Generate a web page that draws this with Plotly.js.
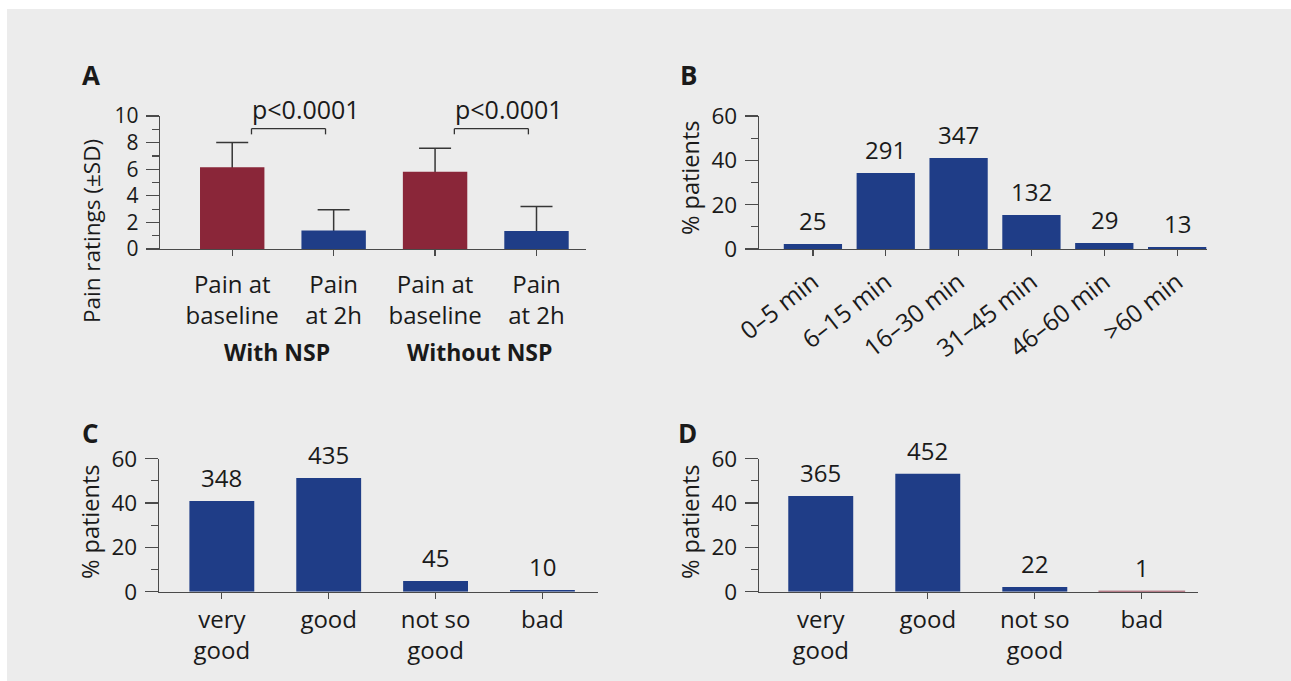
<!DOCTYPE html>
<html><head><meta charset="utf-8">
<script src="https://cdn.plot.ly/plotly-3.0.1.min.js"></script>
<style>html,body{margin:0;padding:0;background:#fff;overflow:hidden;} #chart{width:1291px;height:681px;}</style>
</head><body><div id="chart"></div>
<script>
// ---------- Panel A: pain ratings ----------
const painLabels = ['Pain at<br>baseline', 'Pain<br>at 2h', 'Pain at<br>baseline', 'Pain<br>at 2h'];
const painMeans = [6.15, 1.4, 5.8, 1.35];
const painSD = [1.85, 1.55, 1.77, 1.85];
const painIsBaseline = [true, false, true, false];
const painGroups = ['With NSP', 'Without NSP'];
const pValues = ['p&lt;0.0001', 'p&lt;0.0001'];

// ---------- Panel B: duration ----------
const durCats = ['0–5 min', '6–15 min', '16–30 min', '31–45 min', '46–60 min', '>60 min'];
const durPct = [2.3, 34.3, 41.1, 15.3, 2.7, 0.9];
const durN = [25, 291, 347, 132, 29, 13];

// ---------- Panels C and D: ratings ----------
const ratingCats = ['very<br>good', 'good', 'not so<br>good', 'bad'];
const ratingCPct = [40.9, 51.3, 4.8, 0.8];
const ratingCN = [348, 435, 45, 10];
const ratingDPct = [43.2, 53.2, 2.1, 0.4];
const ratingDN = [365, 452, 22, 1];

const BLUE = '#1f3d87', RED = '#8a2639', AX = '#4a4a4a', TXT = '#1a1a1a';
const FONT = '"Open Sans", sans-serif';
const W = 1291, H = 681;
const px = v => v / W, py = v => 1 - v / H;

function yax(domain, range, dtick, minor, anchor, fsize) {
  return {domain, range, anchor, dtick, tick0: 0, showline: true, linecolor: AX, linewidth: 1.3,
    ticks: 'outside', ticklen: 13, tickwidth: 1.2, tickcolor: AX,
    minor: {dtick: minor, tick0: 0, ticks: 'outside', ticklen: 7, tickcolor: AX, tickwidth: 1.2},
    showgrid: false, zeroline: false, ticklabelstandoff: 3,
    tickfont: {size: fsize, color: TXT, family: FONT}, fixedrange: true};
}
function xax(domain, range, anchor, extra) {
  return Object.assign({domain, range, anchor, showline: true, linecolor: AX, linewidth: 1.3,
    ticks: 'outside', ticklen: 6, tickwidth: 1.2, tickcolor: AX, showgrid: false, zeroline: false,
    ticklabelstandoff: 0,
    tickfont: {size: 24, color: TXT, family: FONT}, fixedrange: true}, extra || {});
}

const idxA = painLabels.map((_, i) => i);
const traces = [
  // error bars carrier (drawn first, so the coloured bars hide the lower caps)
  {type: 'bar', x: idxA, y: painMeans, xaxis: 'x', yaxis: 'y', width: 0.635,
   marker: {color: 'rgba(0,0,0,0)', line: {width: 0}},
   error_y: {type: 'data', symmetric: false, array: painSD, arrayminus: painSD.map(() => 0.3),
             color: '#363636', thickness: 1.5, width: 16}},
  {type: 'bar', x: idxA, y: painMeans, xaxis: 'x', yaxis: 'y', width: 0.635,
   marker: {color: painIsBaseline.map(b => b ? RED : BLUE), line: {width: 0}}},
  {type: 'bar', x: durCats, y: durPct, xaxis: 'x2', yaxis: 'y2', width: 0.8,
   marker: {color: BLUE, line: {width: 0}}},
  {type: 'bar', x: ratingCats, y: ratingCPct, xaxis: 'x3', yaxis: 'y3', width: 0.607,
   marker: {color: BLUE, line: {width: 0}}},
  {type: 'bar', x: ratingCats, y: ratingDPct, xaxis: 'x4', yaxis: 'y4',
   width: ratingCats.map((_, i) => i === ratingCats.length - 1 ? 0.81 : 0.607),
   marker: {color: ratingCats.map((_, i) => i === ratingCats.length - 1 ? RED : BLUE), line: {width: 0}}}
];

const annotations = [];
const txt = (size, bold) => ({size: size, color: TXT, family: FONT, weight: bold ? 'bold' : 'normal'});
// panel letters
[['A', 91, 75], ['B', 688, 75], ['C', 90, 433], ['D', 687, 433]].forEach(([t, x, y]) => {
  annotations.push({xref: 'paper', yref: 'paper', x: px(x), y: py(y), text: '<b>' + t + '</b>',
    showarrow: false, xanchor: 'center', yanchor: 'middle', font: txt(26, true)});
});
// y titles
[['Pain ratings (±SD)', 92, 231, 22.5], ['% patients', 690, 178, 23.5], ['% patients', 90, 522, 23.5], ['% patients', 690, 522, 23.5]].forEach(([t, x, y, s]) => {
  annotations.push({xref: 'paper', yref: 'paper', x: px(x), y: py(y), text: t, textangle: -90,
    showarrow: false, xanchor: 'center', yanchor: 'middle', font: txt(s)});
});
// group labels and p-values in panel A
painGroups.forEach((g, k) => {
  annotations.push({xref: 'x', yref: 'paper', x: 2 * k + 0.44, y: py(352), text: '<b>' + g + '</b>',
    showarrow: false, xanchor: 'center', yanchor: 'middle', font: txt(23, true)});
  annotations.push({xref: 'x', yref: 'paper', x: 2 * k + 0.73, y: py(108.5), text: pValues[k],
    showarrow: false, xanchor: 'center', yanchor: 'middle', font: txt(25)});
});
// value labels
function valueLabels(cats, vals, counts, xr, yr) {
  cats.forEach((c, i) => annotations.push({xref: xr, yref: yr, x: i, y: vals[i], text: String(counts[i]),
    showarrow: false, xanchor: 'center', yanchor: 'bottom', yshift: 5, font: txt(24)}));
}
valueLabels(durCats, durPct, durN, 'x2', 'y2');
valueLabels(ratingCats, ratingCPct, ratingCN, 'x3', 'y3');
valueLabels(ratingCats, ratingDPct, ratingDN, 'x4', 'y4');

const shapes = [
  {type: 'rect', xref: 'paper', yref: 'paper', x0: px(7), x1: 1, y0: 0, y1: py(9),
   fillcolor: '#ececec', line: {width: 0}, layer: 'below'}
];
painGroups.forEach((g, k) => {
  const a = 2 * k + 0.19, b = 2 * k + 0.92, top = 9.05, leg = 8.62;
  const ln = {color: '#333', width: 1.3};
  shapes.push({type: 'line', xref: 'x', yref: 'y', x0: a, x1: b, y0: top, y1: top, line: ln});
  shapes.push({type: 'line', xref: 'x', yref: 'y', x0: a, x1: a, y0: top, y1: leg, line: ln});
  shapes.push({type: 'line', xref: 'x', yref: 'y', x0: b, x1: b, y0: top, y1: leg, line: ln});
});

const layout = {
  width: W, height: H, margin: {l: 0, r: 0, t: 0, b: 0}, showlegend: false, barmode: 'overlay',
  paper_bgcolor: '#ffffff', plot_bgcolor: 'rgba(0,0,0,0)',
  font: {family: FONT, color: TXT},
  xaxis: xax([px(160), px(586)], [-0.712, 3.488], 'y', {type: 'linear', tickvals: idxA, ticktext: painLabels, ticklabelstandoff: 8}),
  yaxis: yax([py(249), py(116)], [0, 10], 2, 1, 'x', 21),
  xaxis2: xax([px(759), px(1207)], [-0.74, 5.41], 'y2', {type: 'category', tickangle: -38, ticklabelstandoff: 2, tickfont: {size: 24.5, color: TXT, family: FONT}}),
  yaxis2: yax([py(249), py(116)], [0, 60], 20, 10, 'x2', 22.5),
  xaxis3: xax([px(159), px(598)], [-0.588, 3.52], 'y3', {type: 'category'}),
  yaxis3: yax([py(591.7), py(458.7)], [0, 60], 20, 10, 'x3', 22.5),
  xaxis4: xax([px(759), px(1198)], [-0.577, 3.525], 'y4', {type: 'category', layer: 'below traces'}),
  yaxis4: yax([py(591.7), py(458.7)], [0, 60], 20, 10, 'x4', 22.5),
  annotations, shapes
};

Plotly.newPlot('chart', traces, layout, {staticPlot: true, displayModeBar: false});
</script>
</body></html>
